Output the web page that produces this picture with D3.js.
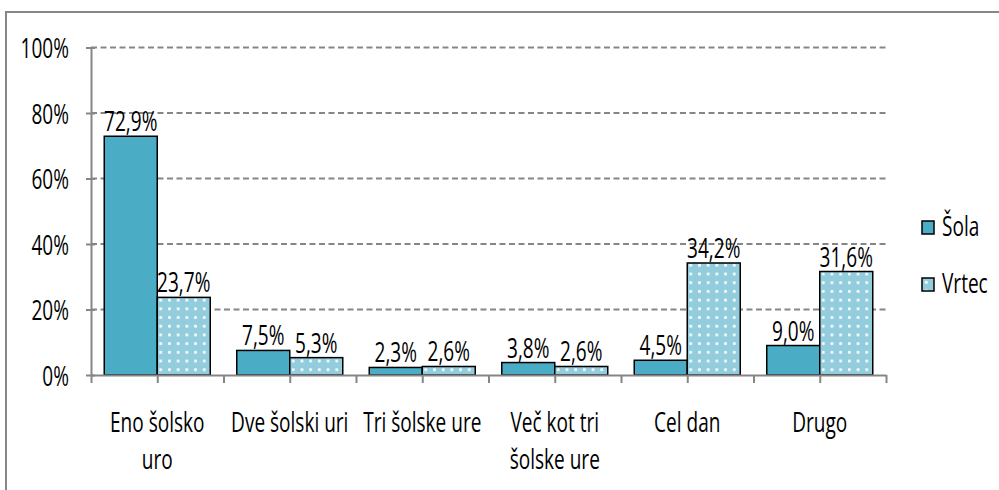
<!DOCTYPE html>
<html>
<head>
<meta charset="utf-8">
<script src="https://cdn.jsdelivr.net/npm/d3@7"></script>
<style>
  body { margin: 0; background: #fff; }
  text { font-family: "Open Sans", "Liberation Sans", sans-serif; font-size: 28px; fill: #000; }
</style>
</head>
<body>
<div id="chart"></div>
<script>
// podatki
var categories = ["Eno šolsko uro", "Dve šolski uri", "Tri šolske ure", "Več kot tri šolske ure", "Cel dan", "Drugo"];
var seriesNames = ["Šola", "Vrtec"];
var solaValues = [72.9, 7.5, 2.3, 3.8, 4.5, 9.0];
var vrtecValues = [23.7, 5.3, 2.6, 2.6, 34.2, 31.6];
var yTicks = [0, 20, 40, 60, 80, 100];

var W = 999, H = 490;
var SX = 0.68; // stisnjena pisava
var plotLeft = 91, plotRight = 886, plotTop = 47.5, plotBottom = 375;
var gray = "#868686";
var colors = ["#4BACC6", "#93CDDD"];

var data = categories.map((c, i) => ({ cat: c, values: [solaValues[i], vrtecValues[i]] }));

var svg = d3.select("#chart").append("svg")
    .attr("width", W)
    .attr("height", H);

// vzorec s pikami za Vrtec
var defs = svg.append("defs");
var pat = defs.append("pattern")
    .attr("id", "dots")
    .attr("patternUnits", "userSpaceOnUse")
    .attr("width", 8.7)
    .attr("height", 8.7);
pat.append("rect").attr("width", 8.7).attr("height", 8.7).attr("fill", colors[1]);
pat.append("rect").attr("x", 3).attr("y", 3).attr("width", 2.6).attr("height", 2.6).attr("fill", "#fff");

// okvir
svg.append("rect")
    .attr("x", 6).attr("y", 12)
    .attr("width", W + 20).attr("height", H + 20)
    .attr("fill", "none")
    .attr("stroke", gray)
    .attr("stroke-width", 2);

var x = d3.scaleBand()
    .domain(categories)
    .range([plotLeft, plotRight])
    .paddingInner(0.2)
    .paddingOuter(0.1);

var xSub = d3.scaleBand()
    .domain(seriesNames)
    .range([0, x.bandwidth()]);

var xTicks = d3.scaleLinear().domain([0, categories.length]).range([plotLeft, plotRight]);

var y = d3.scaleLinear().domain([0, 100]).range([plotBottom, plotTop]);

// mreža
svg.append("g")
    .selectAll("line")
    .data(yTicks.filter(d => d > 0))
    .enter().append("line")
    .attr("x1", plotLeft).attr("x2", plotRight)
    .attr("y1", d => y(d)).attr("y2", d => y(d))
    .attr("stroke", gray)
    .attr("stroke-width", 2)
    .attr("stroke-dasharray", "6,3.5");

// os y
var yAxis = svg.append("g")
    .attr("transform", `translate(${plotLeft},0)`)
    .call(d3.axisLeft(y).tickValues(yTicks).tickFormat(d => d + "%").tickSizeInner(5).tickSizeOuter(0));
yAxis.attr("font-family", null).attr("font-size", null);
yAxis.select(".domain").attr("stroke", gray).attr("stroke-width", 2);
yAxis.selectAll(".tick line").attr("x1", 4).attr("stroke", gray).attr("stroke-width", 2);
yAxis.selectAll(".tick text")
    .attr("x", 0)
    .attr("dy", "0.36em")
    .attr("fill", "#000")
    .attr("transform", `translate(-22,0) scale(${SX},1)`);

// stolpci
var groups = svg.append("g")
    .selectAll(".cat")
    .data(data)
    .enter().append("g")
    .attr("class", "cat")
    .attr("transform", d => `translate(${x(d.cat)},0)`);

groups.selectAll("rect")
    .data(d => d.values.map((v, i) => ({ name: seriesNames[i], value: v })))
    .enter().append("rect")
    .attr("x", d => xSub(d.name))
    .attr("y", d => y(d.value))
    .attr("width", xSub.bandwidth())
    .attr("height", d => y(0) - y(d.value))
    .attr("fill", (d, i) => i === 0 ? colors[0] : "url(#dots)")
    .attr("stroke", "#000")
    .attr("stroke-width", 1.5);

// oznake vrednosti
groups.selectAll(".val")
    .data(d => d.values.map((v, i) => ({ name: seriesNames[i], value: v })))
    .enter().append("text")
    .attr("class", "val")
    .attr("text-anchor", "middle")
    .attr("transform", d => `translate(${xSub(d.name) + xSub.bandwidth() / 2},${y(d.value) - 5}) scale(${SX},1)`)
    .text(d => d.value.toFixed(1).replace(".", ",") + "%");

// os x
var xAxis = svg.append("g")
    .attr("transform", `translate(0,${plotBottom})`)
    .call(d3.axisBottom(xTicks).tickValues(d3.range(0, categories.length + 0.5, 0.5)).tickFormat("").tickSizeInner(8).tickSizeOuter(0));
xAxis.select(".domain").attr("stroke", gray).attr("stroke-width", 2);
xAxis.selectAll(".tick line").attr("stroke", gray).attr("stroke-width", 2);

// imena kategorij
svg.append("g")
    .selectAll(".catLabel")
    .data(categories)
    .enter().append("text")
    .attr("class", "catLabel")
    .attr("text-anchor", "middle")
    .attr("transform", d => `translate(${x(d) + x.bandwidth() / 2},432) scale(${SX},1)`)
    .text(d => d)
    .call(wrap, 125 / SX);

// legenda
var legend = svg.append("g")
    .selectAll(".legend")
    .data(seriesNames)
    .enter().append("g")
    .attr("class", "legend")
    .attr("transform", (d, i) => `translate(922,${221 + i * 57})`);

legend.append("rect")
    .attr("width", 12).attr("height", 13)
    .attr("fill", (d, i) => i === 0 ? colors[0] : "url(#dots)")
    .attr("stroke", "#000")
    .attr("stroke-width", 1.5);

legend.append("text")
    .attr("transform", `translate(20,15) scale(${SX},1)`)
    .text(d => d);

// prelom besedila v več vrstic
function wrap(text, width) {
    text.each(function() {
        var text = d3.select(this),
            words = text.text().split(/\s+/).reverse(),
            word,
            line = [],
            lineNumber = 0,
            lineHeight = 37,
            tspan = text.text(null).append("tspan").attr("x", 0).attr("y", 0);

        while (word = words.pop()) {
            line.push(word);
            tspan.text(line.join(" "));
            if (tspan.node().getComputedTextLength() > width && line.length > 1) {
                line.pop();
                tspan.text(line.join(" "));
                line = [word];
                tspan = text.append("tspan").attr("x", 0).attr("y", ++lineNumber * lineHeight).text(word);
            }
        }
    });
}
</script>
</body>
</html>
